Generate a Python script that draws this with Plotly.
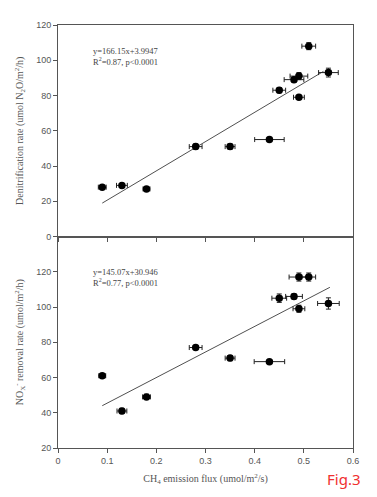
import plotly.graph_objects as go

# ---- data ----
ch4_flux = [0.09, 0.13, 0.18, 0.28, 0.35, 0.43, 0.45, 0.48, 0.49, 0.49, 0.51, 0.55]
ch4_err = [0.008, 0.011, 0.007, 0.013, 0.01, 0.03, 0.013, 0.02, 0.018, 0.011, 0.014, 0.02]
denit = [28, 29, 27, 51, 51, 55, 83, 89, 91, 79, 108, 93]
denit_err = [1, 1, 1, 1.5, 1.5, 1, 1.5, 1.5, 2, 1, 2, 2.5]

flux_b = [0.09, 0.13, 0.18, 0.28, 0.35, 0.43, 0.45, 0.48, 0.49, 0.49, 0.51, 0.55]
flux_b_err = [0.007, 0.01, 0.008, 0.013, 0.01, 0.031, 0.015, 0.017, 0.02, 0.012, 0.014, 0.022]
nox = [61, 41, 49, 77, 71, 69, 105, 106, 117, 99, 117, 102]
nox_err = [1, 1.5, 1.5, 1, 1.5, 1, 2.4, 1.5, 2.3, 2, 2.3, 3.2]

fit_top = (166.15, 3.9947)
fit_top_x = [0.09, 0.54]
fit_bot = (145.07, 30.946)
fit_bot_x = [0.09, 0.553]

eq_top = ["y=166.15x+3.9947", "R<sup>2</sup>=0.87, p<0.0001"]
eq_bot = ["y=145.07x+30.946", "R<sup>2</sup>=0.77, p<0.0001"]

x_ticks = [0, 0.1, 0.2, 0.3, 0.4, 0.5, 0.6]
y_ticks_top = [0, 20, 40, 60, 80, 100, 120]
y_ticks_bot = [20, 40, 60, 80, 100, 120]

GRAY = "#555555"
SERIF = "Liberation Serif, Times New Roman, serif"
SANS = "Liberation Sans, Arial, sans-serif"

fig = go.Figure()

def add_panel(xs, xe, ys, ye, fit, fx, xa, ya):
    fig.add_trace(go.Scatter(
        x=[fx[0], fx[1]], y=[fit[0] * fx[0] + fit[1], fit[0] * fx[1] + fit[1]],
        mode="lines", line=dict(color="#505050", width=1),
        xaxis=xa, yaxis=ya, showlegend=False, hoverinfo="skip"))
    fig.add_trace(go.Scatter(
        x=xs, y=ys, mode="markers",
        marker=dict(color="black", size=7.5, symbol="circle"),
        error_x=dict(type="data", array=xe, color="#222222", thickness=1, width=2.5),
        error_y=dict(type="data", array=ye, color="#222222", thickness=1, width=2.5),
        xaxis=xa, yaxis=ya, showlegend=False))

add_panel(ch4_flux, ch4_err, denit, denit_err, fit_top, fit_top_x, "x", "y")
add_panel(flux_b, flux_b_err, nox, nox_err, fit_bot, fit_bot_x, "x2", "y2")

axis_common = dict(showgrid=False, zeroline=False, showline=True, linecolor=GRAY,
                   linewidth=1, mirror=True, ticks="outside", ticklen=4,
                   tickcolor=GRAY, tickfont=dict(family=SANS, size=9, color=GRAY),
                   automargin=False)

split = 0.5
fig.update_layout(
    width=369, height=489,
    margin=dict(l=50, r=24, t=17, b=49),
    paper_bgcolor="white", plot_bgcolor="white",
    xaxis=dict(range=[0, 0.6], tickvals=x_ticks, ticktext=[""] * len(x_ticks),
               anchor="y", domain=[0, 1], **axis_common),
    yaxis=dict(range=[0, 120], tickvals=y_ticks_top, domain=[split, 1], anchor="x",
               title=dict(text="Denitrification rate (umol N<sub>2</sub>O/m<sup>2</sup>/h)",
                          font=dict(family=SERIF, size=10, color=GRAY), standoff=10),
               **axis_common),
    xaxis2=dict(range=[0, 0.6], tickvals=x_ticks, ticktext=[str(v) for v in x_ticks],
                anchor="y2", domain=[0, 1],
                title=dict(text="CH<sub>4</sub> emission flux (umol/m<sup>2</sup>/s)",
                           font=dict(family=SERIF, size=10, color=GRAY), standoff=10),
                **axis_common),
    yaxis2=dict(range=[20, 140], tickvals=y_ticks_bot, domain=[0, split], anchor="x2",
                title=dict(text="NO<sub>X</sub><sup>-</sup> removal rate (umol/m<sup>2</sup>/h)",
                           font=dict(family=SERIF, size=10, color=GRAY), standoff=10),
                **axis_common),
)

for i, t in enumerate(eq_top):
    fig.add_annotation(x=0.067, y=105.5 - i * 6.2, xref="x", yref="y", text=t, showarrow=False,
                       xanchor="left", font=dict(family=SERIF, size=8.5, color="#444444"))
for i, t in enumerate(eq_bot):
    fig.add_annotation(x=0.067, y=120 - i * 6.2, xref="x2", yref="y2", text=t, showarrow=False,
                       xanchor="left", font=dict(family=SERIF, size=8.5, color="#444444"))

fig.add_annotation(x=(343 - 58) / 295, y=-(479 - 448) / 423,
                   xref="paper", yref="paper", text="Fig.3", showarrow=False,
                   xanchor="center", yanchor="middle",
                   font=dict(family="Noto Sans, sans-serif", size=15, color="#f03030"))

fig.write_html("out.html")
